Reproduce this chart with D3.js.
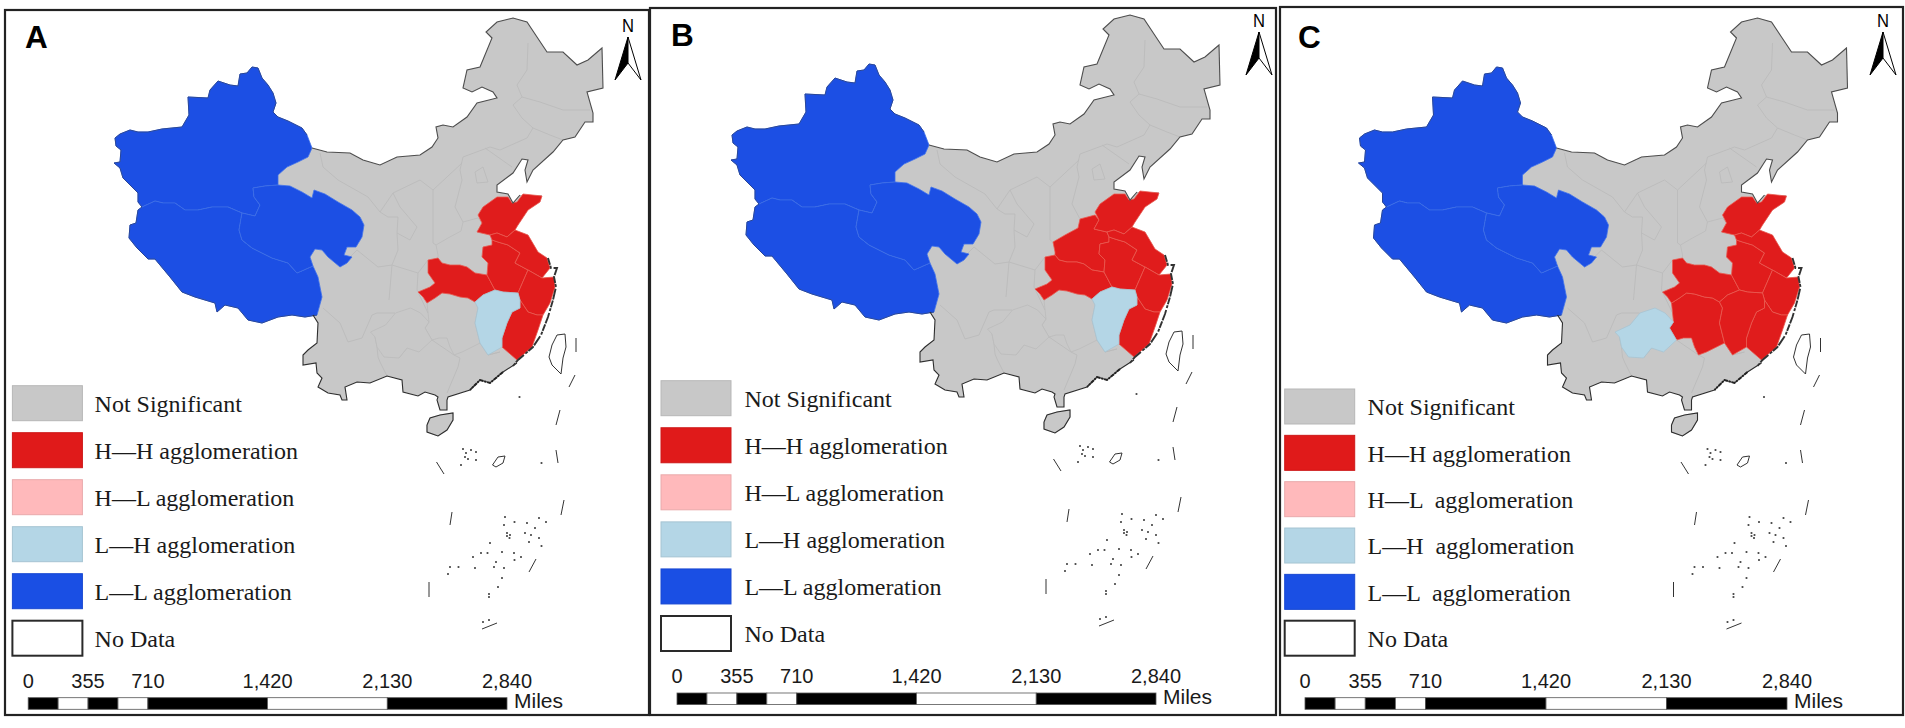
<!DOCTYPE html>
<html>
<head>
<meta charset="utf-8">
<script src="https://cdnjs.cloudflare.com/ajax/libs/d3/7.8.5/d3.min.js"></script>
<style>
html, body { margin: 0; padding: 0; background: #fff; overflow: hidden; }
svg { display: block; }
</style>
</head>
<body>
<script>
'use strict';

// outlines, in panel A map units
var xinjiang = [[312,148],[307,135],[302,128],[288,121],[278,117],[273,112],[276,103],[273,93],[268,85],[262,78],[258,68],[252,67],[247,73],[240,74],[238,86],[230,85],[218,81],[210,90],[208,98],[188,97],[189,115],[182,127],[162,129],[148,132],[138,132],[130,130],[120,134],[115,138],[116,146],[121,150],[120,162],[114,163],[120,168],[123,178],[130,185],[138,193],[138,202],[142,207],[155,201],[163,203],[175,203],[185,210],[198,210],[212,207],[228,207],[242,213],[255,216],[260,205],[254,197],[253,188],[265,186],[278,185],[278,175],[287,167],[298,162],[308,157]];
var qinghai = [[278,185],[290,186],[302,192],[312,198],[314,190],[325,194],[338,202],[352,210],[360,217],[364,225],[362,237],[356,247],[347,247],[344,255],[352,257],[347,263],[340,267],[328,257],[322,250],[315,249],[310,257],[313,266],[297,273],[288,263],[272,258],[252,248],[242,240],[239,230],[242,213],[255,216],[260,205],[254,197],[253,188],[265,186]];
var tibet = [[142,207],[138,210],[136,223],[130,225],[129,238],[137,248],[148,259],[155,259],[170,277],[182,292],[195,297],[215,303],[217,312],[225,305],[238,308],[248,320],[262,323],[278,317],[292,315],[305,317],[317,315],[322,297],[318,277],[313,266],[297,273],[288,263],[272,258],[252,248],[242,240],[239,230],[242,213],[228,207],[212,207],[198,210],[185,210],[175,203],[163,203],[155,201]];
var shandong = [[477,232],[482,223],[478,215],[483,207],[497,197],[508,197],[512,203],[517,202],[523,194],[542,196],[540,202],[528,210],[518,225],[515,230],[507,237],[497,233],[490,235]];
var jiangsu = [[515,230],[528,235],[538,252],[547,258],[550,268],[542,278],[528,270],[515,263],[520,253],[508,245],[498,242],[492,240],[490,235],[497,233],[507,237]];
var anhui = [[492,240],[492,245],[483,247],[482,257],[488,263],[487,275],[495,290],[503,292],[518,293],[528,270],[515,263],[520,253],[508,245],[498,242]];
var hubei = [[418,292],[430,287],[435,283],[428,273],[428,260],[438,258],[442,263],[450,265],[460,265],[467,267],[475,273],[487,275],[495,290],[483,295],[475,302],[468,298],[460,297],[450,294],[442,293],[435,298],[427,303],[423,297]];
var zhejiang = [[528,270],[542,278],[554,277],[555,287],[550,303],[543,315],[537,315],[528,312],[520,300],[518,293]];
var fujian = [[520,300],[528,312],[537,315],[543,315],[538,330],[532,347],[517,360],[502,347],[502,338],[507,323],[512,312],[520,308]];
var jiangxi = [[495,290],[503,292],[518,293],[520,300],[520,308],[512,312],[507,323],[502,338],[502,347],[488,355],[480,343],[475,323],[478,308],[475,302],[483,295]];
var henan = [[463,222],[478,218],[482,223],[477,232],[490,235],[492,240],[492,245],[483,247],[482,257],[488,263],[487,275],[475,273],[467,267],[460,265],[450,265],[442,263],[438,258],[438,255],[436,245],[448,238],[461,231]];
var hunan = [[427,303],[435,298],[442,293],[450,294],[460,297],[468,298],[475,302],[478,308],[475,323],[480,343],[470,348],[462,352],[454,355],[450,347],[447,338],[439,338],[432,340],[425,328],[429,322]];
var guizhou = [[370.5,332],[385.5,325],[395.5,313],[410.5,308],[420.5,313],[429,322],[425,328],[432,340],[419,352],[407,348],[399,358],[384,357],[377,347],[375,337]];
var hainan = [[427,425],[430,418],[440,415],[453,413],[453,420],[447,430],[438,436],[427,432]];

var northBorder = [[312,148],[327,152],[350,153],[363,160],[380,165],[397,157],[420,155],[432,147],[438,138],[436,127],[443,125],[453,127],[467,117],[477,103],[497,98],[493,92],[482,87],[472,92],[463,88],[467,70],[480,67],[492,38],[486,32],[497,22],[513,18],[527,22],[537,37],[547,52],[563,52],[577,65],[588,60],[602,48],[603,88],[587,92],[593,113],[593,122],[585,122],[575,137],[563,140],[553,152],[533,170],[527,182],[525,170],[528,160],[522,159],[513,173],[497,185],[497,192],[508,194],[513,203],[520,195]];
var eastCoast = [[542,196],[540,202],[528,210],[518,225],[515,230],[528,235],[538,252],[547,258],[550,268],[542,278],[554,277],[555,287],[550,303],[543,315],[538,330],[532,347],[517,360],[517,363]];
var southBorder = [[517,363],[503,372],[490,383],[480,380],[470,390],[448,397],[447,400],[447,410],[440,410],[437,400],[438,397],[435,395],[425,392],[418,396],[403,392],[402,380],[387,376],[370,383],[357,382],[345,387],[347,400],[342,400],[340,395],[328,393],[318,387],[322,378],[317,373],[316,363],[303,365],[303,355],[308,350],[317,343],[318,323],[313,315]];
var innerEdge = [[317,315],[322,297],[318,277],[313,266],[310,257],[315,249],[322,250],[328,257],[340,267],[347,263],[352,257],[344,255],[347,247],[356,247],[362,237],[364,225],[360,217],[352,210],[338,202],[325,194],[314,190],[312,198],[302,192],[290,186],[278,185],[278,175],[287,167],[298,162],[308,157]];
var westCoast = xinjiang.slice(1, 38).concat(tibet.slice(1, 21));
var rockyCoast = [[548,258],[551,268],[557,268],[554,277],[556,287],[553,300],[548,317],[541,335],[533,347],[518,360],[513,366]];
var pearlCoast = [[503,372],[490,383],[480,380],[470,390]];

var greyBorders = [
	[[528,43],[527,70],[517,85],[522,97],[540,102],[563,110],[590,110]],
	[[522,97],[513,105],[522,118],[533,128],[550,135],[563,140]],
	[[533,128],[527,138],[500,150],[490,147],[463,157]],
	[[463,157],[460,170],[462,180],[455,207],[463,222]],
	[[485,148],[512,167]],
	[[475,172],[483,167],[488,182],[477,183],[475,172]],
	[[320,153],[323,167],[338,180],[368,197],[380,212],[393,193],[400,207],[417,227],[410,240],[397,233],[398,217],[388,217],[380,212]],
	[[393,193],[420,180],[433,190],[433,243],[436,245]],
	[[433,190],[462,163]],
	[[397,233],[398,250],[392,265],[378,267],[357,250],[340,267]],
	[[392,265],[418,273],[428,260]],
	[[418,273],[417,290],[428,313]],
	[[389,300],[392,265]],
	[[323,308],[340,323],[348,342],[362,338],[372,315],[377,313],[395,313]],
	[[375,337],[377,347],[378,357],[380,362],[387,376]],
	[[407,348],[399,358]],
	[[454,355],[460,358],[458,367],[447,393]],
	[[454,355],[432,340]],
	[[480,343],[488,355],[500,352],[488,355]]
];

var taiwan = [[557,335],[565,334],[566,347],[563,358],[561,374],[552,365],[549,357],[552,345]];
var dongsha = [[492.5,465],[498,457],[505,456],[503,463],[496,467]];
var dashes = [
	[[575,375],[569,387]],
	[[576,338],[576,352]],
	[[560,410],[556,425]],
	[[556,450],[558,463]],
	[[564,500],[561,515]],
	[[536,559],[529,572]],
	[[429,582],[429,597]],
	[[436.5,462],[444,474]],
	[[452,512],[450,525]],
	[[482,629],[497,623]]
];
var islets = [[519.5,397],[541.5,463],[463,449],[471,450],[476,452],[465,457],[468,459],[476,460],[461,465],[505,517],[514.5,522],[504,525],[527,523],[539,518],[546,522],[535,528],[507,533],[509.5,538],[507,536],[525,533],[531,535],[539,538],[529,542],[541.5,546],[490,543],[481,553],[473,557],[487.5,553],[502,552],[514,553],[496,562],[514.5,560],[521,557],[475,568],[450,567],[458.5,567],[448,574],[504,568],[494,567],[502,578],[498,587],[489,597],[489,594],[483,622],[489,620],[466,453],[510,535]];

var provinceNames = ['xinjiang','tibet','qinghai','henan','hunan','guizhou','hubei','shandong','anhui','jiangsu','zhejiang','fujian','jiangxi','hainan'];
var provinceRings = [xinjiang,tibet,qinghai,henan,hunan,guizhou,hubei,shandong,anhui,jiangsu,zhejiang,fujian,jiangxi,hainan];

var panelNames = ['A','B','C'];
var llProvinces = ['xinjiang','tibet','qinghai'];
var hhA = ['shandong','jiangsu','anhui','hubei','zhejiang','fujian'];
var hhB = ['shandong','jiangsu','anhui','hubei','zhejiang','fujian','henan'];
var hhC = ['shandong','jiangsu','anhui','hubei','zhejiang','fujian','hunan','jiangxi'];
var lhA = ['jiangxi'];
var lhB = ['jiangxi'];
var lhC = ['guizhou'];

var legendColors = ['#c8c8c8','#e01a1a','#ffb9bb','#b4d6e6','#1a4fe4','#ffffff'];
var legendAB = ['Not Significant','H\u2014H agglomeration','H\u2014L agglomeration','L\u2014H agglomeration','L\u2014L agglomeration','No Data'];
var legendC = ['Not Significant','H\u2014H agglomeration','H\u2014L  agglomeration','L\u2014H  agglomeration','L\u2014L  agglomeration','No Data'];
var scaleTicks = [0,355,710,1420,2130,2840];
var scaleStops = [0,177.5,355,532.5,710,1420,2130,2840];

var panels = [
	{ name: panelNames[0], hh: hhA, lh: lhA, legend: legendAB, frame: [5,10,644,705], letter: [25,48], map: [0,0], arrow: [0,0], key: [12.4,94.6,385.7,620.7], bar: [28.2,507,697.7] },
	{ name: panelNames[1], hh: hhB, lh: lhB, legend: legendAB, frame: [650,8,626,707], letter: [671,46], map: [617,-3], arrow: [631,-5], key: [661,744.4,380.7,616], bar: [677,1156,693] },
	{ name: panelNames[2], hh: hhC, lh: lhC, legend: legendC, frame: [1280,7,623,708], letter: [1298,48], map: [1244.5,0], arrow: [1255,-5], key: [1284.7,1367.6,389,620.7], bar: [1305,1787,697.7] }
];

var svg = d3.select('body').append('svg').attr('width', 1905).attr('height', 728);
var soft = svg.append('defs').append('filter').attr('id', 'soft');
soft.append('feGaussianBlur').attr('stdDeviation', 0.5);

function polygon(ring) {
	return { type: 'Polygon', coordinates: [ring.concat([ring[0]])] };
}
function lines(list) {
	return { type: 'MultiLineString', coordinates: list };
}

function drawMap(g, panel) {
	var path = d3.geoPath(d3.geoIdentity().translate(panel.map));
	var mainland = northBorder.concat([[542,195]], eastCoast.slice(1), southBorder.slice(1), innerEdge.slice(0));

	function fillOf(name) {
		if (llProvinces.indexOf(name) >= 0) return legendColors[4];
		if (panel.hh.indexOf(name) >= 0) return legendColors[1];
		if (panel.lh.indexOf(name) >= 0) return legendColors[3];
		return legendColors[0];
	}
	function edgeOf(name) {
		var f = fillOf(name);
		if (f == legendColors[4]) return '#3d6de6';
		if (f == legendColors[1]) return '#ea5a52';
		if (f == legendColors[3]) return '#a8c4d2';
		return '#bbbbbb';
	}

	g.append('path').attr('d', path(polygon(mainland))).attr('fill', legendColors[0]);
	g.append('path').attr('d', path(lines(greyBorders))).attr('fill', 'none').attr('stroke', '#bbbbbb').attr('stroke-width', 0.9);

	g.selectAll('path.province')
		.data(provinceNames)
		.enter().append('path')
		.attr('class', 'province')
		.attr('d', function(d) { return path(polygon(provinceRings[provinceNames.indexOf(d)])); })
		.attr('fill', fillOf)
		.attr('stroke', edgeOf)
		.attr('stroke-width', 0.8)
		.attr('stroke-linejoin', 'round');

	g.append('path').attr('d', path(lines([westCoast]))).attr('fill', 'none').attr('stroke', '#23408f').attr('stroke-width', 0.9);
	g.append('path').attr('d', path(lines([northBorder]))).attr('fill', 'none').attr('stroke', '#4d4d4d').attr('stroke-width', 1.1);
	g.append('path').attr('d', path(lines([southBorder, hainan.concat([hainan[0]])]))).attr('fill', 'none').attr('stroke', '#2e2e2e').attr('stroke-width', 1.1);
	g.append('path').attr('d', path(lines([rockyCoast]))).attr('fill', 'none').attr('stroke', '#333').attr('stroke-width', 1.9).attr('stroke-dasharray', '7 1 3 2 11 1');
	g.append('path').attr('d', path(lines([pearlCoast]))).attr('fill', 'none').attr('stroke', '#222').attr('stroke-width', 1.9).attr('stroke-dasharray', '4 1 2 1');

	g.append('path').attr('d', path(lines([taiwan.concat([taiwan[0]]), dongsha.concat([dongsha[0]])]))).attr('fill', '#fff').attr('stroke', '#333').attr('stroke-width', 1);
	g.append('path').attr('d', path(lines(dashes))).attr('fill', 'none').attr('stroke', '#333').attr('stroke-width', 1);
	g.append('path')
		.attr('d', path.pointRadius(1.1)({ type: 'MultiPoint', coordinates: islets }))
		.attr('fill', '#444');
}

function drawArrow(g, panel) {
	var dx = panel.arrow[0], dy = panel.arrow[1];
	g.append('path').attr('d', 'M' + (628 + dx) + ',' + (37 + dy) + 'L' + (615 + dx) + ',' + (80 + dy) + 'L' + (628 + dx) + ',' + (63 + dy) + 'Z').attr('fill', '#000').attr('stroke', '#000');
	g.append('path').attr('d', 'M' + (628 + dx) + ',' + (37 + dy) + 'L' + (641 + dx) + ',' + (80 + dy) + 'L' + (628 + dx) + ',' + (63 + dy) + 'Z').attr('fill', '#fff').attr('stroke', '#000');
	g.append('text').attr('x', 628 + dx).attr('y', 32 + dy).attr('text-anchor', 'middle')
		.attr('font-family', '"Liberation Sans"').attr('font-size', 18)
		.attr('textLength', 12).attr('lengthAdjust', 'spacingAndGlyphs').text('N');
}

function drawLegend(g, panel) {
	var key = panel.key;
	var rowY = d3.scaleLinear().domain([0, 5]).range([key[2], key[3]]);
	var rows = g.selectAll('g.row').data(panel.legend).enter().append('g').attr('class', 'row');
	rows.append('rect')
		.attr('x', key[0]).attr('y', function(d, i) { return rowY(i); })
		.attr('width', 70).attr('height', 35)
		.attr('fill', function(d, i) { return legendColors[i]; })
		.attr('stroke', function(d, i) { return i == 5 ? '#2a2a2a' : d3.color(legendColors[i]).darker(0.25); })
		.attr('stroke-width', function(d, i) { return i == 5 ? 2 : 1; });
	rows.append('text')
		.attr('x', key[1]).attr('y', function(d, i) { return rowY(i) + 26.2; })
		.attr('font-family', '"Liberation Serif"').attr('font-size', 24).attr('fill', '#1a1a1a')
		.style('white-space', 'pre')
		.text(function(d) { return d; });
}

function drawScale(g, panel) {
	var bar = panel.bar;
	var x = d3.scaleLinear().domain([0, 2840]).range([bar[0], bar[1]]);
	var stops = d3.pairs(scaleStops);
	g.selectAll('rect.seg').data(stops).enter().append('rect')
		.attr('class', 'seg')
		.attr('x', function(d) { return x(d[0]); })
		.attr('y', bar[2])
		.attr('width', function(d) { return x(d[1]) - x(d[0]); })
		.attr('height', 11.6)
		.attr('fill', function(d, i) { return i % 2 ? '#fff' : '#000'; })
		.attr('stroke', '#555')
		.attr('stroke-width', 0.8);
	g.selectAll('text.tick').data(scaleTicks).enter().append('text')
		.attr('class', 'tick')
		.attr('x', function(d) { return x(d); })
		.attr('y', bar[2] - 10)
		.attr('text-anchor', 'middle')
		.attr('font-family', '"Liberation Sans"').attr('font-size', 20).attr('fill', '#1a1a1a')
		.text(d3.format(','));
	g.append('text')
		.attr('x', bar[1] + 7).attr('y', bar[2] + 10.5)
		.attr('font-family', '"Liberation Sans"').attr('font-size', 21).attr('fill', '#1a1a1a')
		.text('Miles');
}

panels.forEach(function(panel) {
	var g = svg.append('g').attr('class', 'panel-' + panel.name);
	g.append('rect')
		.attr('x', panel.frame[0]).attr('y', panel.frame[1])
		.attr('width', panel.frame[2]).attr('height', panel.frame[3])
		.attr('fill', '#fff').attr('stroke', '#222').attr('stroke-width', 2.2);
	drawMap(g.append('g').attr('filter', 'url(#soft)'), panel);
	drawArrow(g, panel);
	drawLegend(g.append('g'), panel);
	drawScale(g.append('g'), panel);
	g.append('text')
		.attr('x', panel.letter[0]).attr('y', panel.letter[1])
		.attr('font-family', '"Liberation Sans"').attr('font-weight', 'bold').attr('font-size', 31.5)
		.text(panel.name);
});
</script>
</body>
</html>
